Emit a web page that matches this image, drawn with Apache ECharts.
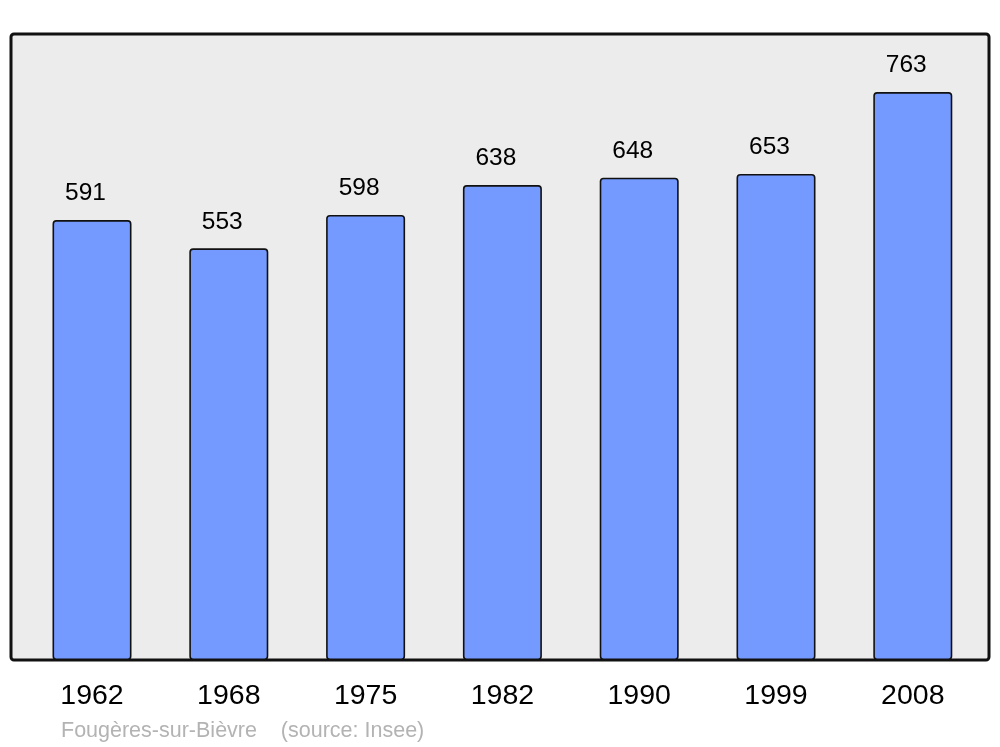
<!DOCTYPE html>
<html>
<head>
<meta charset="utf-8">
<script src="https://cdn.jsdelivr.net/npm/echarts@6/dist/echarts.min.js"></script>
<style>
html,body{margin:0;padding:0;background:#fff;}
#chart{width:1000px;height:747px;}
</style>
</head>
<body>
<div id="chart"></div>
<script>
const years = ['1962','1968','1975','1982','1990','1999','2008'];
const population = [591, 553, 598, 638, 648, 653, 763];
const footerText = 'Fougères-sur-Bièvre    (source: Insee)';

const chart = echarts.init(document.getElementById('chart'), null, {renderer: 'canvas'});
chart.setOption({
  animation: false,
  backgroundColor: '#ffffff',
  graphic: [
    {
      type: 'rect', z: -10, silent: true,
      shape: {x: 11, y: 34, width: 978, height: 626, r: 3},
      style: {fill: '#ececec', stroke: '#111', lineWidth: 3}
    },
    {
      type: 'text', left: 61, top: 720, silent: true,
      style: {text: footerText, fill: '#b3b3b3', font: '21.5px "Liberation Sans", Arial, sans-serif'}
    }
  ],
  grid: {left: 23.6, right: 18.8, top: 34, bottom: 87, containLabel: false},
  xAxis: {
    type: 'category',
    data: years,
    axisLine: {show: false},
    axisTick: {show: false},
    axisLabel: {
      margin: 22, fontSize: 28.5, color: '#000',
      fontFamily: '"Liberation Sans", Arial, sans-serif'
    }
  },
  yAxis: {
    type: 'value', min: 0, max: 841,
    show: false,
    splitLine: {show: false}
  },
  series: [{
    type: 'bar',
    data: population,
    barWidth: 79,
    itemStyle: {color: '#7499ff', borderColor: '#111', borderWidth: 1.6, borderRadius: 3},
    label: {
      show: true, position: 'top', distance: 14, offset: [-6.5, 0],
      fontSize: 24.5, color: '#000',
      fontFamily: '"Liberation Sans", Arial, sans-serif'
    }
  }]
});
</script>
</body>
</html>
